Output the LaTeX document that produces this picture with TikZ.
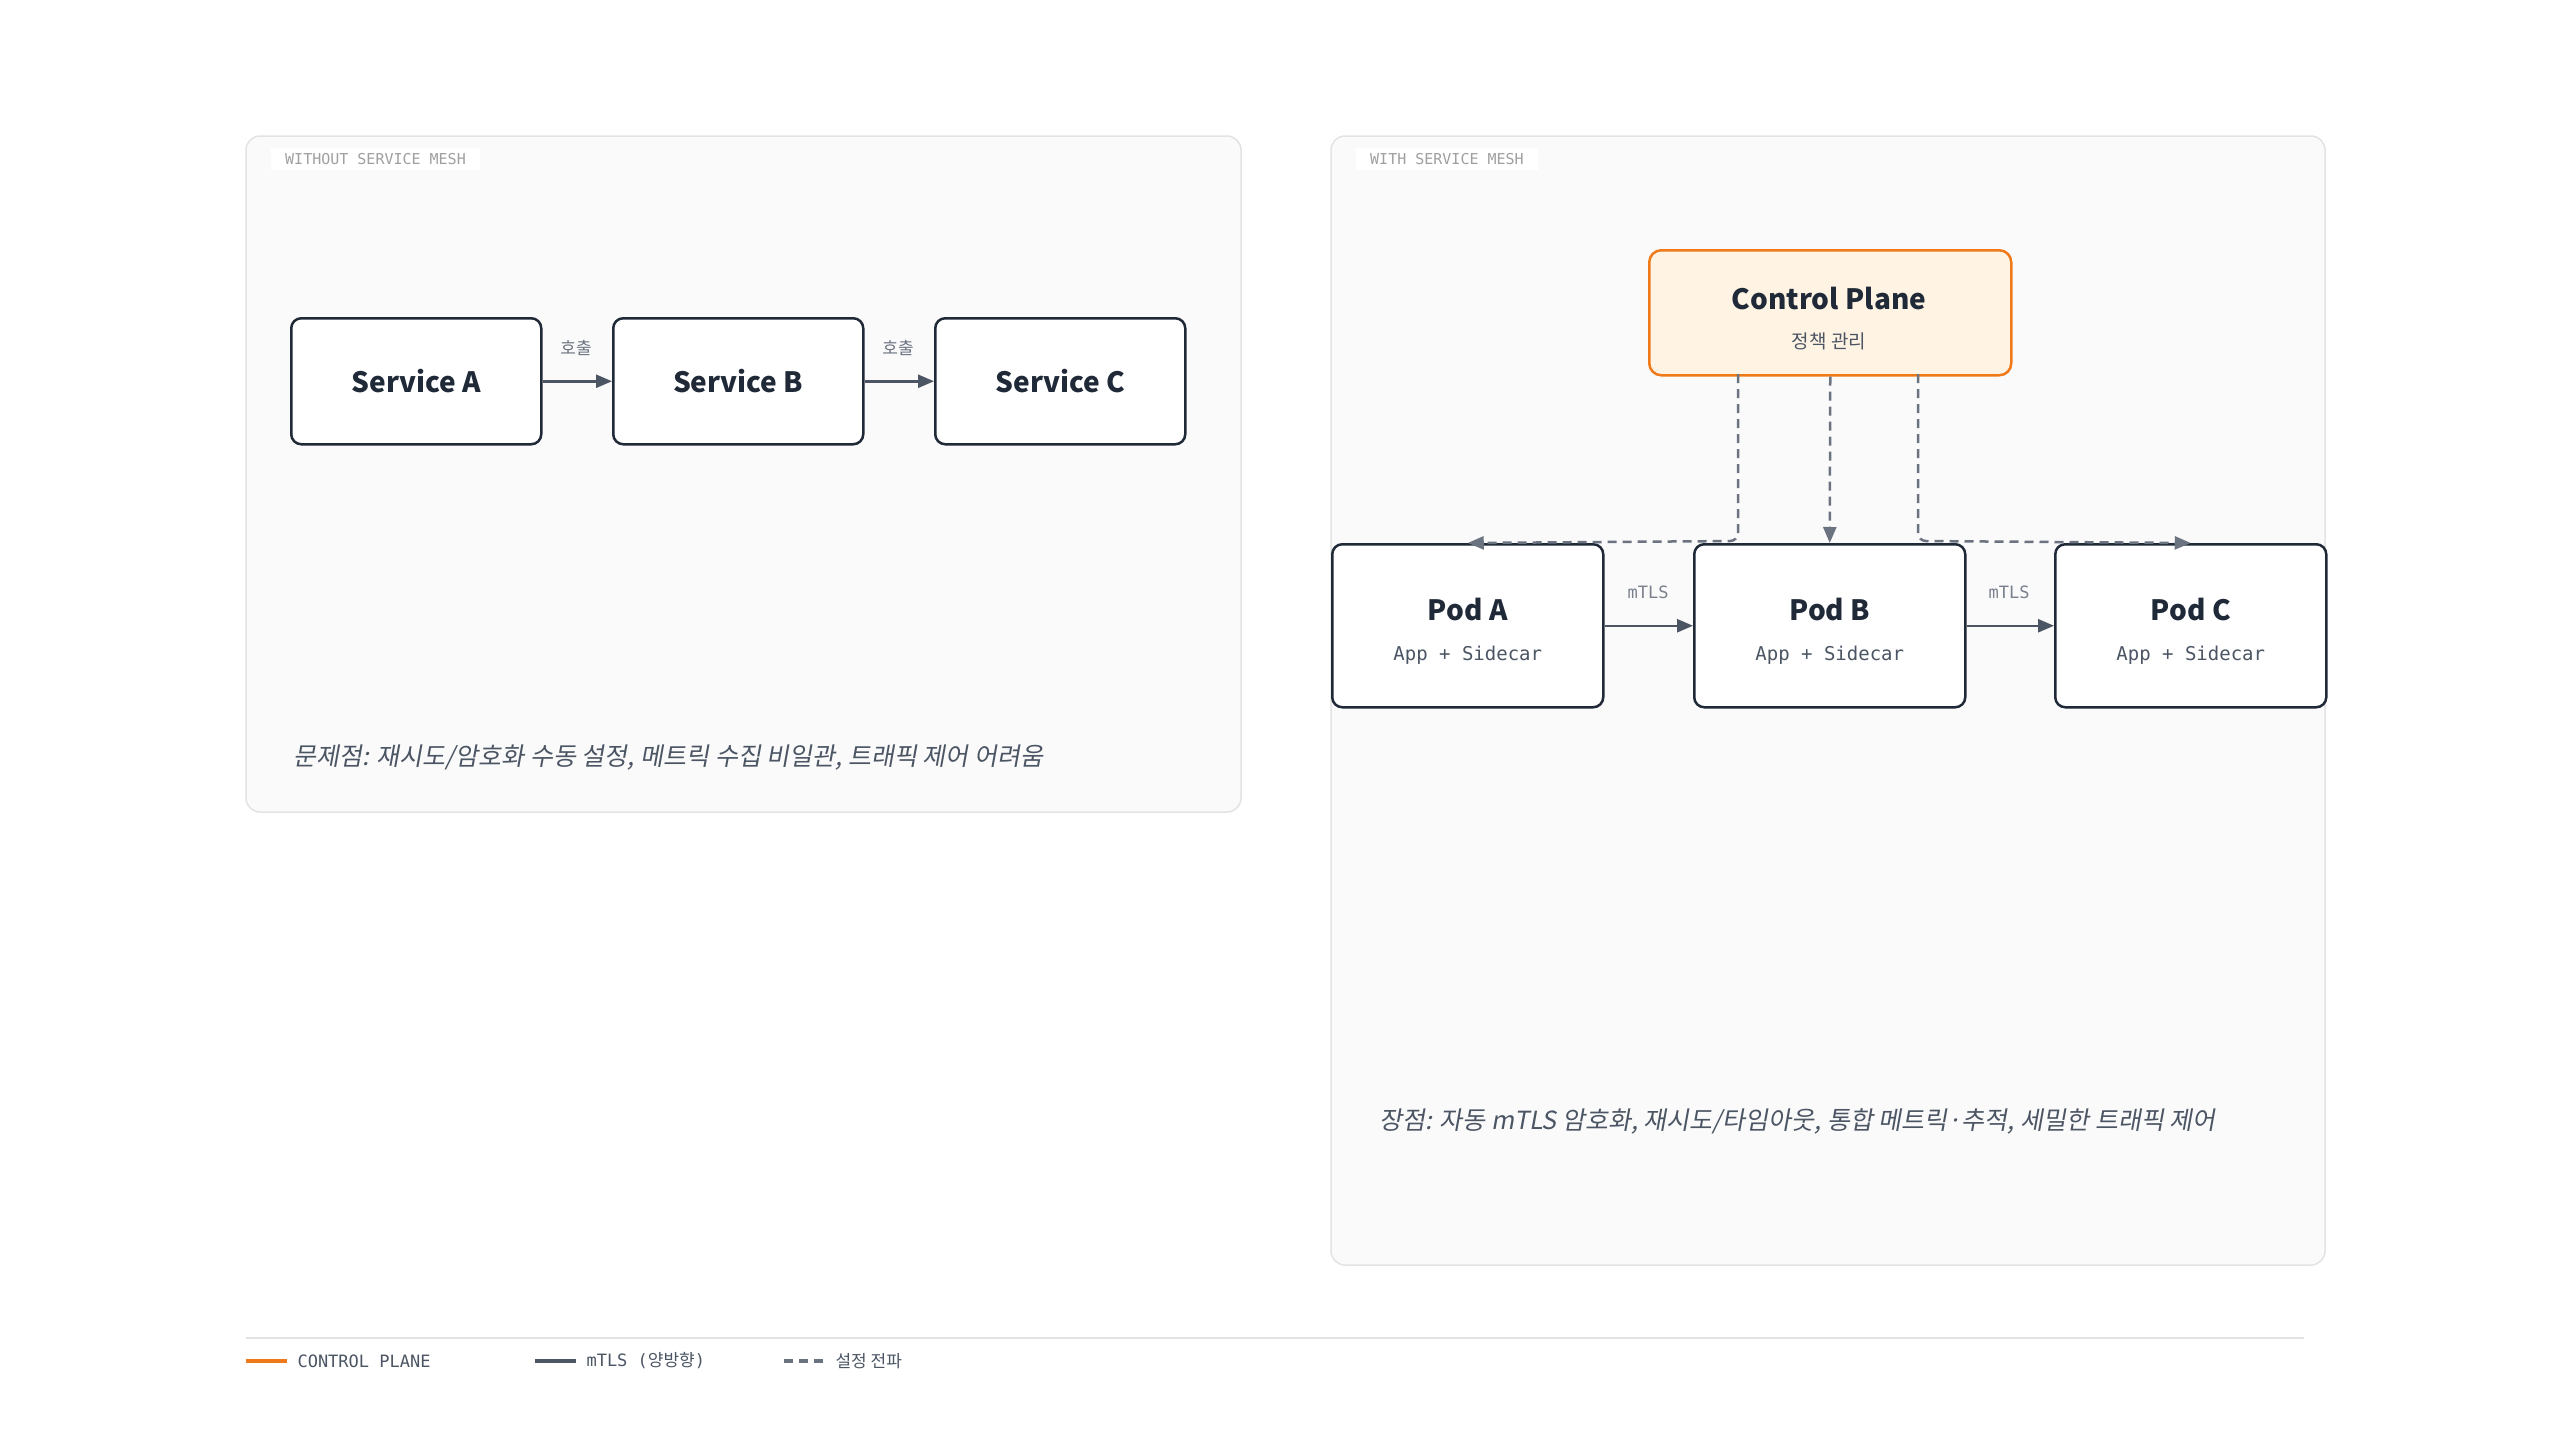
\documentclass[tikz,border=0pt]{standalone}
\usepackage{fontspec}
\setmainfont{Noto Sans CJK KR}
\newfontfamily\kr[AutoFakeSlant=0.18]{Noto Sans CJK KR}
\newfontfamily\mono{DejaVu Sans Mono}
\usetikzlibrary{arrows.meta}
\definecolor{ink}{HTML}{1F2937}
\definecolor{arr}{HTML}{4B5563}
\definecolor{dsh}{HTML}{6B7280}
\definecolor{org}{HTML}{F07A1A}
\definecolor{orgfill}{HTML}{FFF4E4}
\definecolor{panel}{HTML}{FAFAFA}
\definecolor{pline}{HTML}{E3E3E3}
\begin{document}
\begin{tikzpicture}[x=1pt,y=-1pt,
  panelbox/.style={draw=pline,fill=panel,line width=1.5pt,rounded corners=14pt},
  box/.style={draw=ink,fill=white,line width=2.5pt,rounded corners=10pt,anchor=north west,inner sep=0},
  title/.style={font=\fontsize{28}{32}\selectfont\bfseries,text=ink},
  sub/.style={font=\mono\fontsize{19}{22}\selectfont,text=arr},
  tag/.style={font=\mono\fontsize{15}{18}\selectfont,text=gray!75,fill=white,inner xsep=14pt,inner ysep=5pt,anchor=west},
  lbl/.style={font=\mono\fontsize{17}{20}\selectfont,text=dsh!90,fill=panel,inner sep=3pt},
  lblk/.style={font=\fontsize{17}{20}\selectfont,text=dsh,fill=panel,inner sep=3pt},
  solidarr/.style={draw=arr,line width=2.5pt,-{Triangle[length=16pt,width=13pt]}},
  dasharr/.style={draw=dsh,line width=2.5pt,dash pattern=on 9pt off 6pt,-{Triangle[length=16pt,width=13pt]}},
  note/.style={font=\kr\itshape\fontsize{25}{30}\selectfont,text=arr,anchor=west},
  leg/.style={font=\mono\fontsize{17}{20}\selectfont,text=arr,anchor=west}]
\useasboundingbox (0,0) rectangle (2560,1440);
\fill[white] (0,0) rectangle (2560,1440);
% panels
\path[panelbox] (246,136) rectangle (1241,812);
\path[panelbox] (1331,136) rectangle (2325,1265);
\node[tag] (tl) at (271,159) {WITHOUT SERVICE MESH};
\node[tag] (tr) at (1356,159) {WITH SERVICE MESH};
% left
\node[box,minimum width=250pt,minimum height=126pt,title] (sa) at (290,317) {Service A};
\node[box,minimum width=250pt,minimum height=126pt,title] (sb) at (612,317) {Service B};
\node[box,minimum width=250pt,minimum height=126pt,title] (sc) at (934,317) {Service C};
\draw[solidarr] (sa.east) -- (sb.west);
\draw[solidarr] (sb.east) -- (sc.west);
\node[lblk] (l1) at (576,348) {호출};
\node[lblk] (l2) at (898,348) {호출};
\node[note] (n1) at (290,758) {문제점: 재시도/암호화 수동 설정, 메트릭 수집 비일관, 트래픽 제어 어려움};
% right
\node[draw=org,fill=orgfill,line width=2.5pt,rounded corners=12pt,anchor=north west,minimum width=362pt,minimum height=125pt] (cp) at (1648,249) {};
\node[title] (cpt) at (1829,299) {Control Plane};
\node[font=\fontsize{19}{22}\selectfont,text=arr] (cps) at (1829,341) {정책 관리};
\foreach \n/\x/\t in {pa/1331/Pod A,pb/1693/Pod B,pc/2054/Pod C}{
  \node[box,minimum width=271pt,minimum height=163pt] (\n) at (\x,543) {};
  \node[title] (\n t) at ([yshift=-67pt]\n.north) {\t};
  \node[sub] (\n s) at ([yshift=-112pt]\n.north) {App + Sidecar};
}
\coordinate (cl) at (1738,374);
\coordinate (cr) at (1918,374);
\draw[dasharr,rounded corners=8pt] (cl) -- (1738,541) -- (pa.north);
\draw[dasharr,rounded corners=8pt] (cr) -- (1918,541) -- (pc.north);
\draw[dasharr] (cp.south) -- (pb.north);
\draw[solidarr] (pa.east) -- (pb.west);
\draw[solidarr] (pb.east) -- (pc.west);
\node[lbl] (m1) at (1648,592) {mTLS};
\node[lbl] (m2) at (2009,592) {mTLS};
\node[note] (n2) at (1376,1121) {장점: 자동 mTLS 암호화, 재시도/타임아웃, 통합 메트릭·추적, 세밀한 트래픽 제어};
% legend
\draw[pline,line width=2pt] (246,1338) -- (2304,1338);
\draw[org,line width=4pt] (246,1361) -- (287,1361);
\node[leg] (g1) at (294,1361) {CONTROL PLANE};
\draw[arr,line width=4pt] (535,1361) -- (576,1361);
\node[leg] (g2) at (583,1361) {mTLS ({\fontspec{Noto Sans CJK KR}양방향})};
\draw[dsh,line width=4pt,dash pattern=on 9pt off 6pt] (784,1361) -- (825,1361);
\node[leg,font=\fontsize{17}{20}\selectfont] (g3) at (832,1361) {설정 전파};
\end{tikzpicture}
\end{document}
